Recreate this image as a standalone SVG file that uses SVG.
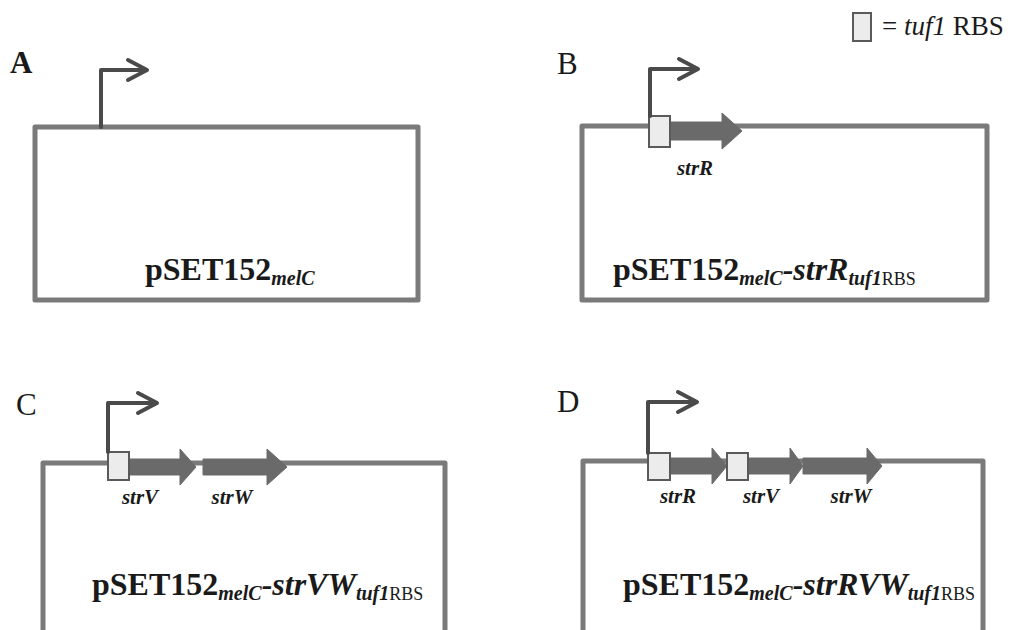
<svg xmlns="http://www.w3.org/2000/svg" width="1022" height="630" viewBox="0 0 1022 630">
<style>
.frame{fill:none;stroke:#7a7a7a;stroke-width:5;stroke-linejoin:round}
.prom{fill:none;stroke:#4a4a4a;stroke-width:4;stroke-linejoin:round;stroke-linecap:round}
.gene{fill:#6a6a6a;stroke:#6a6a6a;stroke-width:1}
.rbs{fill:#ececec;stroke:#5a5a5a;stroke-width:2}
.letter{font-family:"Liberation Serif",serif;font-size:31px;fill:#1a1a1a}
.lab{font-family:"Liberation Serif",serif;font-size:21px;font-weight:bold;font-style:italic;fill:#1a1a1a;text-anchor:middle}
.title{font-family:"Liberation Serif",serif;font-size:32px;font-weight:bold;fill:#1a1a1a}
.sub{font-size:20px;font-style:italic}
.subr{font-size:18px;font-weight:normal}
.it{font-style:italic}
</style>
<rect width="1022" height="630" fill="#ffffff"/>
<g id="legend">
<rect class="rbs" x="853" y="13" width="18" height="28"/>
<text x="882" y="35" font-family="Liberation Serif,serif" font-size="27" fill="#1a1a1a">= <tspan font-style="italic">tuf1</tspan> RBS</text>
</g>
<g id="panelA">
<text class="letter" x="10" y="73" font-weight="bold">A</text>
<rect class="frame" x="35" y="127" width="383" height="173"/>
<text class="title" x="145" y="280">pSET152<tspan class="sub" dy="5">melC</tspan></text>
</g>
<g id="panelB">
<text class="letter" x="557" y="74">B</text>
<rect class="frame" x="582" y="126" width="405" height="174"/>
<path class="gene" d="M670,122 H722 V113 L742,131 L722,149 V140 H670 Z"/>
<rect class="rbs" x="649" y="116" width="21" height="31"/>
<text class="lab" x="695" y="175">strR</text>
<text class="title" x="613" y="280">pSET152<tspan class="sub" dy="5">melC</tspan><tspan class="it" dy="-5">-strR</tspan><tspan class="sub" dy="5">tuf1</tspan><tspan class="subr">RBS</tspan></text>
</g>
<g id="panelC">
<text class="letter" x="16" y="415">C</text>
<rect class="frame" x="43" y="463" width="402" height="170"/>
<path class="gene" d="M129,459 H180 V449 L196,467 L180,485 V475 H129 Z"/>
<path class="gene" d="M203,459 H267 V449 L287,467 L267,485 V475 H203 Z"/>
<rect class="rbs" x="108" y="452" width="21" height="28"/>
<text class="lab" x="140" y="504">strV</text>
<text class="lab" x="232" y="504">strW</text>
<text class="title" x="92" y="595">pSET152<tspan class="sub" dy="5">melC</tspan><tspan class="it" dy="-5">-strVW</tspan><tspan class="sub" dy="5">tuf1</tspan><tspan class="subr">RBS</tspan></text>
</g>
<g id="panelD">
<text class="letter" x="557" y="412">D</text>
<rect class="frame" x="583" y="461" width="400" height="172"/>
<path class="gene" d="M670,458 H712 V448 L727,466 L712,484 V474 H670 Z"/>
<path class="gene" d="M748,458 H790 V448 L803,466 L790,484 V474 H748 Z"/>
<path class="gene" d="M803,458 H867 V448 L882,466 L867,484 V474 H803 Z"/>
<rect class="rbs" x="648" y="453" width="22" height="27"/>
<rect class="rbs" x="727" y="453" width="21" height="27"/>
<text class="lab" x="678" y="503">strR</text>
<text class="lab" x="761" y="503">strV</text>
<text class="lab" x="851" y="503">strW</text>
<text class="title" x="623" y="595">pSET152<tspan class="sub" dy="5">melC</tspan><tspan class="it" dy="-5">-strRVW</tspan><tspan class="sub" dy="5">tuf1</tspan><tspan class="subr">RBS</tspan></text>
</g>
<g id="connectors">
<path class="prom" d="M101,127 V70 H146 M128,60 L147,70 L128,80"/>
<path class="prom" d="M650,116 V69 H697 M679,59 L698,69 L679,79"/>
<path class="prom" d="M108,452 V403 H156 M138,393 L157,403 L138,413"/>
<path class="prom" d="M648,453 V402 H696 M678,392 L697,402 L678,412"/>
</g>
</svg>
